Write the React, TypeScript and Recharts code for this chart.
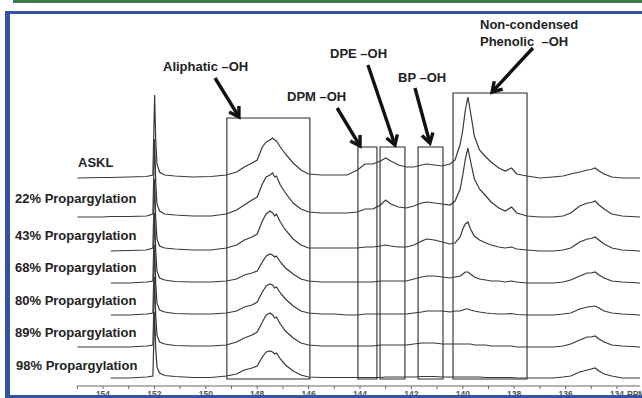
import React from "react";
import { LineChart, Line, XAxis, YAxis, ReferenceArea, ReferenceLine } from "recharts";

// chemical shift grid (ppm), shared by all spectra
const ppmGrid = [
  155.0, 154.0, 153.7, 153.0, 152.3, 152.06, 151.99, 151.95, 151.9, 151.8, 151.6, 151.2, 150.5,
  149.8, 149.2, 148.8, 148.5, 148.2, 148.0, 147.8, 147.65, 147.5, 147.4, 147.32, 147.25, 147.1, 146.9, 146.6, 146.3, 146.0,
  145.5, 145.0, 144.5, 144.1, 143.8, 143.5, 143.2, 143.0, 142.8, 142.5, 142.2, 141.9, 141.6, 141.4, 141.1, 140.8, 140.5, 140.3,
  140.1, 140.0, 139.9, 139.8, 139.7, 139.55, 139.35, 139.1, 138.9, 138.6, 138.35, 138.1, 137.9, 137.5,
  137.0, 136.5, 136.1, 135.8, 135.45, 135.15, 135.0, 134.85, 134.7, 134.5, 134.2, 133.8, 133.1,
];

const sampleNames = [
  "ASKL",
  "22% Propargylation",
  "43% Propargylation",
  "68% Propargylation",
  "80% Propargylation",
  "89% Propargylation",
  "98% Propargylation",
];

// vertical stacking offsets of each spectrum (intensity units)
const stackOffsets = [208, 169, 135, 103, 71, 39, 8];

const askl = [
  0, 0.5, 0.5, 1, 1.5, 3, 83, 40, 14, 6, 3, 2, 1,
  1.5, 3, 6, 11, 15, 18, 31, 36, 38, 40, 38, 37, 31, 24, 15, 8, 4,
  3, 3, 3, 8, 14, 14, 17, 20, 17, 13, 11, 11, 13, 14, 13, 12, 14, 18,
  34, 48, 68, 81, 66, 42, 28, 21, 16, 10, 7, 10, 4, 2,
  0, 1, 2, 4, 6, 8, 8.5, 10, 7, 4, 1, 0, 0,
];
const prop22 = [
  0, 0, 0.5, 0.5, 1, 3, 78, 36, 13, 6, 3, 2, 1,
  1, 3, 7, 12, 17, 20, 33, 40, 42, 44, 40, 41, 32, 24, 14, 8, 5,
  4, 4, 4, 5, 8, 8, 12, 17, 13, 10, 9, 11, 14, 15, 14, 13, 12, 16,
  28, 42, 58, 69, 56, 38, 28, 21, 15, 9, 6, 10, 4, 1,
  0, 0, 1, 4, 11, 14, 14.5, 16, 12, 8, 3, 1, 0,
];
const prop43 = [
  null, null, 0, 0.5, 1, 3, 72, 34, 12, 5, 3, 2, 1,
  1, 3, 6, 11, 14, 17, 30, 37, 40, 38, 35, 37, 29, 21, 12, 6, 3,
  3, 3, 3, 3, 4, 4, 5, 6, 5, 4, 4, 6, 10, 12, 11, 9, 7, 8,
  14, 22, 27, 29, 22, 15, 11, 8, 6, 4, 3, 4, 2, 1,
  0, 0, 1, 3, 9, 12, 12.5, 14, 11, 7, 3, 1, 0,
];
const prop68 = [
  null, null, 0, 0, 1, 2, 70, 33, 12, 5, 3, 1.5, 1,
  1, 2, 4, 8, 10, 12, 21, 27, 29, 28, 26, 27, 21, 15, 9, 4, 2,
  1, 1, 1, 1, 1, 1, 2, 2, 2, 2, 2, 4, 6, 7, 7, 6, 5, 6,
  7, 9, 11, 11, 9, 6, 4, 3, 2, 2, 1, 2, 1, 0,
  0, 0, 1, 3, 7, 10, 10, 11, 8, 5, 2, 1, 0,
];
const prop80 = [
  null, null, 0, 0, 1, 2, 70, 33, 12, 5, 3, 1.5, 1,
  1, 2, 4, 8, 10, 13, 23, 29, 31, 30, 27, 28, 22, 16, 9, 4, 2,
  1, 1, 0, 0, 1, 1, 1, 1, 1, 1, 1, 2, 3, 4, 4, 4, 3, 4,
  4, 5, 6, 6, 5, 4, 3, 2, 1.5, 1, 1, 1.5, 0.5, 0,
  0, 0, 1, 2, 6, 8, 8.5, 9, 7, 4, 2, 1, 0,
];
const prop89 = [
  0, 0, 0, 0, 1, 2, 70, 33, 12, 5, 3, 1.5, 1,
  1, 2, 5, 9, 12, 15, 25, 32, 34, 32, 29, 30, 23, 16, 9, 4, 2,
  1, 1, 1, 1, 1, 1, 2, 2, 2, 2, 2, 3, 4, 4, 4, 3, 3, 3,
  3, 3, 3, 3, 3, 2, 2, 2, 1, 1, 1, 1, 0, 0,
  0, 0, 1, 3, 7, 10, 10, 11, 8, 5, 2, 1, 0,
];
const prop98 = [
  null, null, 0, 0, 1, 2, 66, 30, 11, 5, 2.5, 1.5, 0.5,
  0.5, 2, 4, 8, 10, 12, 21, 26, 27, 26, 24, 25, 19, 13, 7, 3, 1,
  0.5, 0.5, 0.5, 0.5, 0.5, 0.5, 0.5, 1, 1, 1, 1, 1, 1.5, 1.5, 1.5, 1, 1, 1,
  1, 1, 1, 1, 1, 1, 1, 0.5, 0.5, 0.5, 0.5, 0.5, 0, 0,
  0, 0, 1, 2, 6, 8, 9, 10, 7, 4, 2, 0, 0,
];

const spectra = [askl, prop22, prop43, prop68, prop80, prop89, prop98];

// x-axis ticks (ppm)
const axisTicks = [155, 154, 153, 152, 151, 150, 149, 148, 147, 146, 145, 144, 143, 142, 141, 140, 139, 138, 137, 136, 135, 134];

// highlighted regions: [ppm from, ppm to, top]
const regions = [
  { name: "Aliphatic", x1: 149.18, x2: 145.95, top: 268 },
  { name: "DPM", x1: 144.08, x2: 143.34, top: 239 },
  { name: "DPE", x1: 143.22, x2: 142.25, top: 239 },
  { name: "BP", x1: 141.74, x2: 140.77, top: 239 },
  { name: "Non-condensed", x1: 140.38, x2: 137.5, top: 293 },
];
const regionBottom = 7;

// annotation arrows (from -> to, in ppm / intensity units)
const arrows = [
  { from: [149.64, 308], to: [148.71, 269] },
  { from: [144.89, 278], to: [144.0, 240] },
  { from: [143.69, 321], to: [142.64, 241] },
  { from: [141.86, 298], to: [141.28, 243] },
  { from: [137.27, 338], to: [138.86, 294] },
];

// text annotations (page pixels)
const annotations = [
  { text: "Aliphatic \u2013OH", left: 163, cy: 66 },
  { text: "DPM \u2013OH", left: 287, cy: 96 },
  { text: "DPE \u2013OH", left: 330, cy: 53 },
  { text: "BP \u2013OH", left: 398, cy: 77 },
  { text: "Non-condensed", left: 480, cy: 24 },
  { text: "Phenolic  \u2013OH", left: 480, cy: 41 },
];
const sampleLabelPos = [
  { left: 78, cy: 162 },
  { left: 15, cy: 198 },
  { left: 15, cy: 235 },
  { left: 15, cy: 267 },
  { left: 15, cy: 300 },
  { left: 15, cy: 332 },
  { left: 16, cy: 365 },
];

const data = ppmGrid.map((ppm, i) => {
  const row: any = { ppm };
  spectra.forEach((s, k) => {
    row["s" + k] = s[i] === null ? null : stackOffsets[k] + (s[i] as number);
  });
  return row;
});

const FONT = "'Liberation Sans', Arial, Helvetica, sans-serif";

const ArrowShape = (p: any) => {
  const { x1, y1, x2, y2 } = p;
  if ([x1, y1, x2, y2].some((v) => typeof v !== "number" || isNaN(v))) return <g />;
  const ang = Math.atan2(y2 - y1, x2 - x1);
  const L = 11;
  const a = 0.55;
  const hx1 = x2 - L * Math.cos(ang - a);
  const hy1 = y2 - L * Math.sin(ang - a);
  const hx2 = x2 - L * Math.cos(ang + a);
  const hy2 = y2 - L * Math.sin(ang + a);
  return (
    <g>
      <line x1={x1} y1={y1} x2={x2 - 1.5 * Math.cos(ang)} y2={y2 - 1.5 * Math.sin(ang)} stroke="#111" strokeWidth={3.4} />
      <polyline points={`${hx1},${hy1} ${x2},${y2} ${hx2},${hy2}`} fill="none" stroke="#111" strokeWidth={3.4} strokeLinejoin="miter" />
    </g>
  );
};

const Tick = (props: any) => {
  const { x, y, payload } = props;
  const v = payload.value;
  if (v % 2 !== 0 || v > 154) return <g />;
  return (
    <g>
      <text x={x} y={y + 6.5} textAnchor="middle" fontSize={8.5} fontWeight="bold" fill="#555" fontFamily={FONT}>
        {v}
      </text>
      {v === 134 && (
        <text x={x + 10} y={y + 6.5} textAnchor="start" fontSize={8.5} fontWeight="bold" fill="#555" fontFamily={FONT}>
          PPM
        </text>
      )}
    </g>
  );
};

export default function App() {
  return (
    <div style={{ position: "absolute", left: 0, top: 0, width: 642, height: 398, background: "#fff", overflow: "hidden", fontFamily: FONT }}>
      <div style={{ position: "absolute", left: 13, top: 0, width: 629, height: 2.5, background: "#3b7a4c" }} />
      <div style={{ position: "absolute", left: 0, top: 0 }}>
        <LineChart width={642} height={398} data={data} margin={{ top: 0, right: 1.9, bottom: 0, left: 77.3 }}>
          <XAxis
            dataKey="ppm"
            type="number"
            domain={[133.1, 155]}
            reversed
            allowDataOverflow
            ticks={axisTicks}
            interval={0}
            height={12}
            tickSize={3}
            tickMargin={1}
            axisLine={{ stroke: "#666", strokeWidth: 1 }}
            tickLine={{ stroke: "#666" }}
            tick={<Tick />}
          />
          <YAxis hide type="number" domain={[0, 386]} allowDataOverflow />
          {regions.map((r) => (
            <ReferenceArea
              key={r.name}
              x1={r.x1}
              x2={r.x2}
              y1={regionBottom}
              y2={r.top}
              fill="none"
              stroke="#2a2a2a"
              strokeWidth={1.1}
              ifOverflow="visible"
            />
          ))}
          {spectra.map((_, k) => (
            <Line
              key={k}
              dataKey={"s" + k}
              type="linear"
              stroke="#383838"
              strokeWidth={1.2}
              dot={false}
              activeDot={false}
              isAnimationActive={false}
              connectNulls={false}
            />
          ))}
          {arrows.map((a, i) => (
            <ReferenceLine
              key={i}
              segment={[{ x: a.from[0], y: a.from[1] }, { x: a.to[0], y: a.to[1] }]}
              stroke="#111"
              strokeWidth={3.4}
              ifOverflow="visible"
              shape={ArrowShape}
            />
          ))}
        </LineChart>
      </div>
      {annotations.map((t, i) => (
        <div
          key={i}
          style={{ position: "absolute", left: t.left, top: t.cy - 7.5, fontSize: 13, lineHeight: "15px", fontWeight: "bold", color: "#222", whiteSpace: "pre" }}
        >
          {t.text}
        </div>
      ))}
      {sampleNames.map((n, i) => (
        <div
          key={n}
          style={{ position: "absolute", left: sampleLabelPos[i].left, top: sampleLabelPos[i].cy - 7.5, fontSize: 13, lineHeight: "15px", fontWeight: "bold", color: "#222", whiteSpace: "pre" }}
        >
          {n}
        </div>
      ))}
      <div style={{ position: "absolute", left: 5, top: 11, width: 637, height: 3, background: "#3453a3" }} />
      <div style={{ position: "absolute", left: 5, top: 11, width: 5, height: 387, background: "#3453a3" }} />
      <div style={{ position: "absolute", left: 5, top: 395, width: 637, height: 3, background: "#3453a3" }} />
    </div>
  );
}
